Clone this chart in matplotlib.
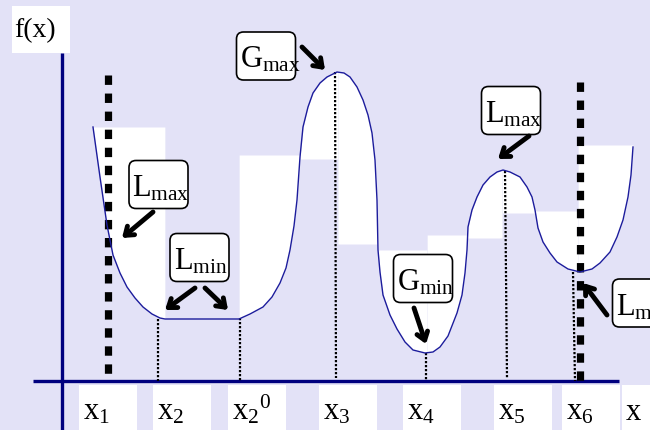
import matplotlib.pyplot as plt
import numpy as np
from matplotlib.patches import Rectangle, FancyBboxPatch

plt.rcParams['font.family'] = ['Liberation Serif', 'DejaVu Serif']
plt.rcParams['mathtext.fontset'] = 'custom'
plt.rcParams['mathtext.rm'] = 'Liberation Serif'
plt.rcParams['mathtext.it'] = 'Liberation Serif:italic'

# the curve f(x) (x position, height above the x axis)
curve_x = [93, 100, 107, 113, 120, 127, 135, 143, 152, 160, 165, 200, 239,
           250, 263, 272, 280, 286, 290, 294, 297, 300, 303, 308, 313, 320,
           327, 337, 344, 350, 357, 363, 368, 372, 375, 377, 378, 380, 383,
           390, 397, 405, 413, 425, 433, 440, 448, 457, 462, 465, 467, 468,
           472, 477, 483, 490, 497, 503, 510, 520, 527, 532, 535, 538, 543,
           550, 557, 568, 580, 592, 600, 610, 617, 623, 628, 631, 633]
curve_f = [254, 204, 156, 126, 108, 94, 83, 74, 67, 63, 62, 62, 62,
           67, 74, 84, 98, 113, 131, 155, 181, 224, 254, 274, 288, 298,
           304, 309, 308, 304, 294, 281, 266, 248, 221, 181, 131, 109, 86,
           66, 52, 39, 31, 28, 29, 34, 45, 68, 86, 108, 131, 154,
           171, 184, 196, 204, 209, 211, 209, 204, 194, 184, 171, 153, 139,
           128, 119, 112, 109, 112, 118, 129, 144, 161, 184, 206, 234]

# white patches between the curve and a level (x from, x to, level)
fill_from = [93, 239, 300, 338, 377, 427, 467, 502, 535, 578]
fill_to = [165, 300, 338, 377, 427, 467, 502, 535, 578, 633]
fill_level = [254, 226, 222, 137, 131, 146, 143, 168, 170, 236]

# thin dotted drops from the extrema to the axis
drop_top_x = [158, 240, 335, 426, 505, 573]
drop_bot_x = [158, 240, 336, 426, 507, 575]
drop_top_f = [62, 63, 309, 28, 210, 109]
drop_bot_f = [0, 0, 3, 0, 3, 0]

# thick dotted bounds
bound_x = [108, 580]
bound_top = [306, 299]

# x axis labels
tick_x = [83, 157, 232, 323, 407, 498, 566, 626]
tick_labels = [r'$\mathrm{x}_1$', r'$\mathrm{x}_2$', r'$\mathrm{x}_2{}^0$',
               r'$\mathrm{x}_3$', r'$\mathrm{x}_4$', r'$\mathrm{x}_5$',
               r'$\mathrm{x}_6$', 'x']

# callouts: label, box centre, arrow tail, arrow head
notes = [
    (r'$\mathrm{L}_{\mathrm{max}}$', (158.5, 196.5), [((153, 169), (122, 143))]),
    (r'$\mathrm{L}_{\mathrm{min}}$', (199.5, 123.5), [((195, 93), (165, 71)),
                                                      ((205, 93), (228, 71))]),
    (r'$\mathrm{G}_{\mathrm{max}}$', (266, 325), [((302, 334), (325, 311))]),
    (r'$\mathrm{L}_{\mathrm{max}}$', (511, 270.5), [((529, 245), (498, 222))]),
    (r'$\mathrm{G}_{\mathrm{min}}$', (423, 102.5), [((414, 73), (426, 37))]),
    (r'$\mathrm{L}_{\mathrm{min}}$', (642, 78), [((607, 66), (583, 98))]),
]

bg = '#e3e2f7'
navy = '#00007f'

fig = plt.figure(figsize=(6.5, 4.3), dpi=100)
fig.patch.set_facecolor(bg)
ax = fig.add_axes([0, 0, 1, 1])
ax.set_xlim(0, 650)
ax.set_ylim(-49, 381)
ax.axis('off')

xs = np.linspace(93, 633, 2000)
fs = np.interp(xs, curve_x, curve_f)
for a, b, lev in zip(fill_from, fill_to, fill_level):
    m = (xs >= a) & (xs <= b)
    ax.fill_between(xs[m], fs[m], lev, color='white', lw=0, zorder=1)

# white boxes behind labels
for tx in tick_x:
    ax.add_patch(Rectangle((tx - 4, -49), 58 if tx < 620 else 40, 45,
                           color='white', lw=0, zorder=1))
ax.add_patch(Rectangle((12, 328), 58, 47, color='white', lw=0, zorder=1))
ax.text(14, 350, 'f(x)', fontsize=20, va='center', ha='left', zorder=5)

# axes
ax.plot([33, 619], [0, 0], color=navy, lw=2.4, zorder=3, solid_capstyle='butt')
ax.plot([62, 62], [-49, 328], color=navy, lw=2.4, zorder=3, solid_capstyle='butt')

for tx, lab in zip(tick_x, tick_labels):
    ax.text(tx, -39, lab, fontsize=22, va='baseline', ha='left', zorder=5)

for x0, x1, f0, f1 in zip(drop_top_x, drop_bot_x, drop_top_f, drop_bot_f):
    ax.plot([x0, x1], [f0, f1], color='black', lw=1.6, ls=(0, (1, 0.8)), zorder=4)

for bx, bt in zip(bound_x, bound_top):
    ax.plot([bx, bx], [bt, 0], color='black', lw=5.2, ls=(0, (1.3, 1.2)),
            solid_capstyle='butt', dash_capstyle='butt', zorder=4)

ax.plot(curve_x, curve_f, color='#1c1c9c', lw=1.0, zorder=5)

for lab, (cx, cy), arrows in notes:
    ax.add_patch(FancyBboxPatch((cx - 25.5, cy - 20), 51, 40,
                                boxstyle='round,pad=4,rounding_size=7',
                                fc='white', ec='black', lw=1.2, zorder=6))
    ax.text(cx - 26, cy - 12, lab, fontsize=22, ha='left', va='baseline',
            zorder=7)
    for tail, head in arrows:
        ax.annotate('', xy=head, xytext=tail, zorder=7,
                    arrowprops=dict(arrowstyle='->,head_length=0.55,head_width=0.4',
                                    lw=3.5, color='black',
                                    shrinkA=0, shrinkB=0))

fig.savefig('out.png', dpi=100, facecolor=bg)
